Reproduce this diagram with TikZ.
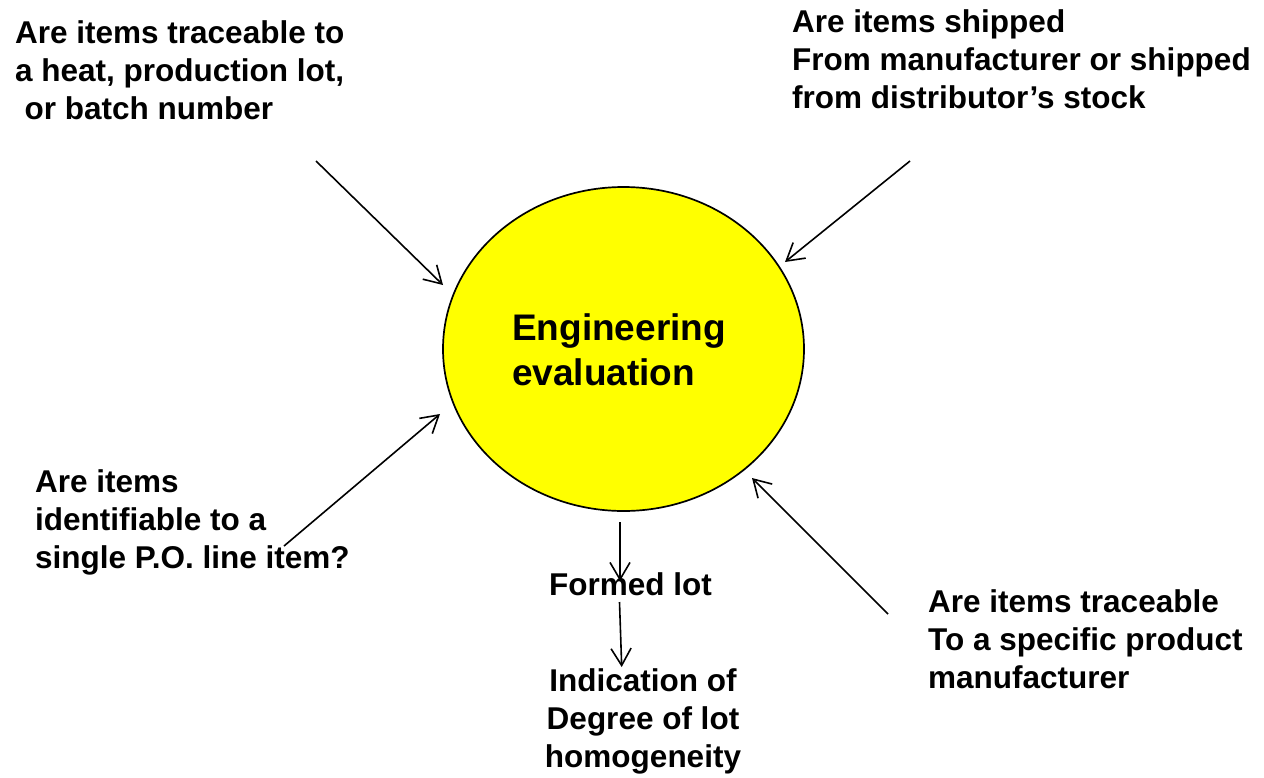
\documentclass[tikz,border=0pt]{standalone}
\usepackage{fontspec}
\setmainfont{Liberation Sans}
\usetikzlibrary{shapes.geometric,arrows.meta}
\definecolor{pureyellow}{RGB}{255,255,0}
\tikzset{
  lbl/.style={inner sep=0pt, align=left, anchor=base west,
    font=\fontsize{31.5}{38.3}\selectfont\bfseries},
  bigl/.style={inner sep=0pt, align=left, anchor=base west,
    font=\fontsize{37}{44.5}\selectfont\bfseries},
  conn/.style={line width=1.6pt, -{Straight Barb[length=17pt,width=20pt,line width=1.6pt]}},
  bubble/.style={ellipse, draw=black, line width=1.7pt, fill=pureyellow,
    minimum width=361pt, minimum height=324pt, inner sep=0pt}
}
\begin{document}
\begin{tikzpicture}[x=1pt,y=-1pt]
\useasboundingbox (0,0) rectangle (1264,777);
\node[bubble] (eval) at (623.5,349) {};
\node[bigl] (evaltext) at (512,385) {Engineering\\evaluation};

\node[lbl] (q1) at (15,119.6) {Are items traceable to\\a heat, production lot,\\\hspace*{0.3em}or batch number};
\node[lbl] (q2) at (792,108.6) {Are items shipped\\From manufacturer or shipped\\from distributor’s stock};
\node[lbl] (q3) at (35,568.6) {Are items\\identifiable to a\\single P.O. line item?};
\node[lbl] (q4) at (928,688.6) {Are items traceable\\To a specific product\\manufacturer};
\node[lbl] (formed) at (549,595) {Formed lot};
\node[lbl, align=center, anchor=base] (ind) at (643,767.6) {Indication of\\Degree of lot\\homogeneity};

\coordinate (s1) at (316,161);  \coordinate (e1) at (443,285);
\coordinate (s2) at (910,161);  \coordinate (e2) at (785,262);
\coordinate (s3) at (284,546);  \coordinate (e3) at (440,414);
\coordinate (s4) at (888,614);  \coordinate (e4) at (752,478);
\coordinate (s5) at (620,522);  \coordinate (e5) at (620,581);
\coordinate (s6) at (619.5,602); \coordinate (e6) at (621.7,667);

\draw[conn] (s1) -- (e1);
\draw[conn] (s2) -- (e2);
\draw[conn] (s3) -- (e3);
\draw[conn] (s4) -- (e4);
\draw[conn] (s5) -- (e5);
\draw[conn] (s6) -- (e6);
\end{tikzpicture}
\end{document}
